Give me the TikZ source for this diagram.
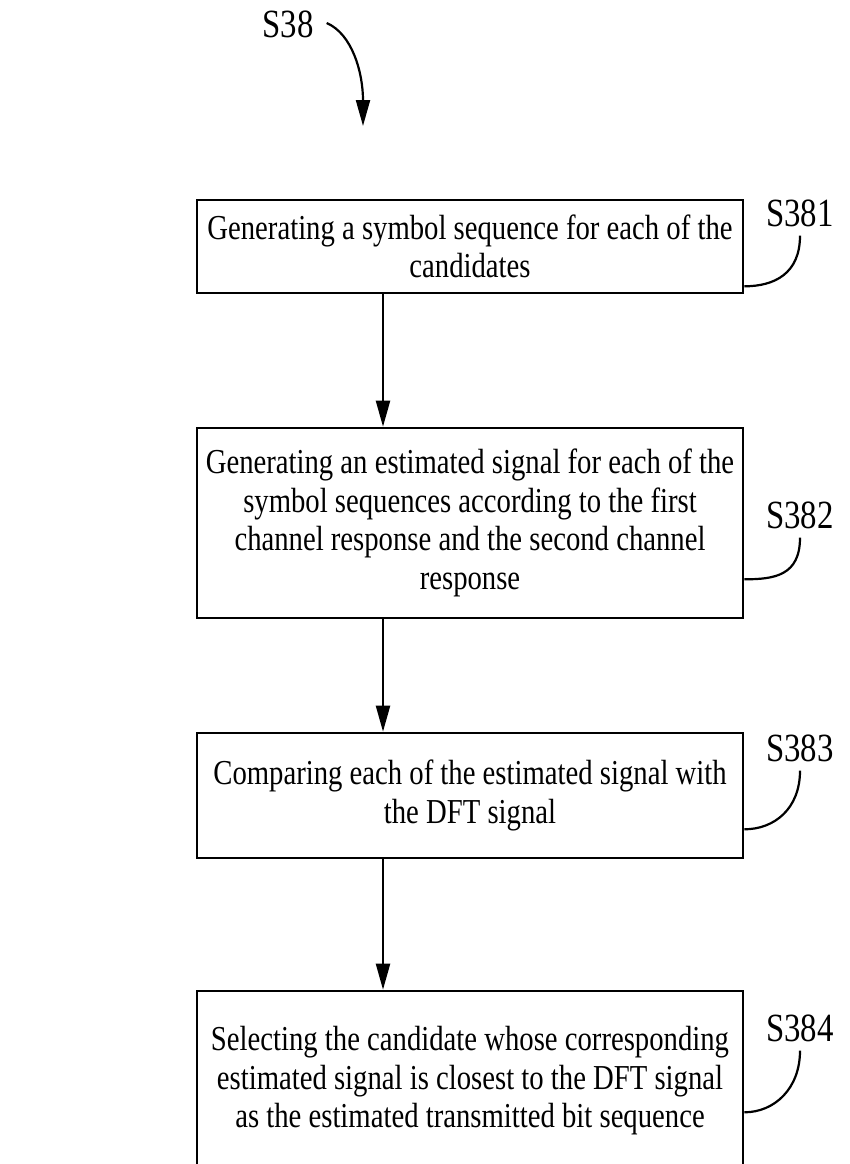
\documentclass[tikz,border=0pt]{standalone}
\usepackage{fontspec}
\setmainfont[FakeStretch=0.82]{Liberation Serif}
\usetikzlibrary{arrows.meta}
\begin{document}
\begin{tikzpicture}[x=1pt,y=-1pt,
  stepbox/.style={draw, line width=2.6pt, minimum width=546pt, align=center, inner sep=0pt, font=\fontsize{35}{38.5}\selectfont},
  lbl/.style={font=\fontsize{40}{40}\selectfont, inner sep=1pt},
  flow/.style={line width=2.2pt, -{Triangle[length=26pt,width=14pt]}},
  lead/.style={line width=2.2pt}]
\useasboundingbox (0,0) rectangle (849,1164);
\fill[white] (0,0) rectangle (849,1164);

\node[lbl] (s38) at (288,24) {S38};
\coordinate (s38tip) at (363,126);
\draw[flow] ([xshift=12pt,yshift=1pt]s38.east) .. controls (352,34) and (363,72) .. (s38tip);

\node[stepbox, minimum height=93pt] (b1) at (470,246.5) {Generating a symbol sequence for each of the\\candidates};
\node[stepbox, minimum height=190pt] (b2) at (470,523) {Generating an estimated signal for each of the\\symbol sequences according to the first\\channel response and the second channel\\response};
\node[stepbox, minimum height=125pt] (b3) at (470,795.5) {Comparing each of the estimated signal with\\the DFT signal};
\node[stepbox, minimum height=180pt] (b4) at (470,1081) {Selecting the candidate whose corresponding\\estimated signal is closest to the DFT signal\\as the estimated transmitted bit sequence};

\draw[flow] (b1.south -| 383,0) -- (b2.north -| 383,0);
\draw[flow] (b2.south -| 383,0) -- (b3.north -| 383,0);
\draw[flow] (b3.south -| 383,0) -- (b4.north -| 383,0);

\node[lbl] (l1) at (800,213) {S381};
\node[lbl] (l2) at (800,515) {S382};
\node[lbl] (l3) at (800,748) {S383};
\node[lbl] (l4) at (800,1028) {S384};

\draw[lead] ([yshift=-8pt]l1.south) .. controls +(0,38) and +(30,0) .. ([yshift=8pt]b1.south east);
\draw[lead] ([yshift=-8pt]l2.south) .. controls +(0,38) and +(30,0) .. ([yshift=40pt]b2.south east);
\draw[lead] ([yshift=-8pt]l3.south) .. controls +(0,38) and +(30,0) .. ([yshift=30pt]b3.south east);
\draw[lead] ([yshift=-8pt]l4.south) .. controls +(0,38) and +(30,0) .. ([yshift=60pt]b4.south east);
\end{tikzpicture}
\end{document}
